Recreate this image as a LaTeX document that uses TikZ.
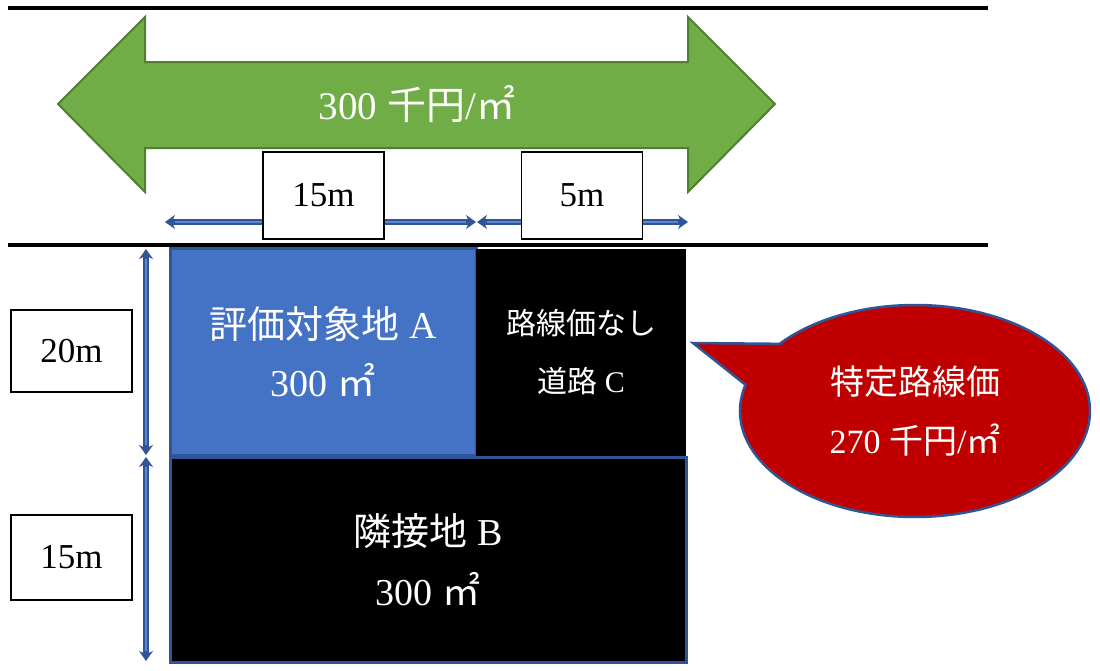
\documentclass[tikz,border=0pt]{standalone}
\usepackage{fontspec}
\setmainfont{Liberation Serif}
\newfontfamily\cjk{Noto Sans CJK JP}
\usetikzlibrary{arrows.meta,shapes.callouts}
\definecolor{arrowgreen}{HTML}{70AD47}
\definecolor{arrowgreenline}{HTML}{507E32}
\definecolor{lotblue}{HTML}{4472C4}
\definecolor{lotline}{HTML}{2F5597}
\definecolor{dimblue}{HTML}{2F5597}
\definecolor{dimlight}{HTML}{5B86D0}
\definecolor{calloutred}{HTML}{C00000}
\tikzset{
  roadline/.style={line width=4pt, black},
  dimline/.style={draw=dimblue, line width=6pt,
    arrows={Stealth[length=10pt,width=14pt]-Stealth[length=10pt,width=14pt]},
    postaction={draw=dimlight, line width=1.8pt, arrows=-, shorten <=10pt, shorten >=10pt}},
  labelbox/.style={draw=black, line width=1.5pt, fill=white, inner sep=0pt,
    minimum width=121pt, font=\fontsize{35}{40}\selectfont},
  lot/.style={inner sep=0pt, align=center, text=white},
}
\begin{document}
\begin{tikzpicture}[x=1pt,y=-1pt]
\useasboundingbox (0,0) rectangle (1100,670);
% road lines
\coordinate (r1a) at (8,8); \coordinate (r1b) at (988,8);
\coordinate (r2a) at (8,245); \coordinate (r2b) at (988,245);
\draw[roadline] (r1a) -- (r1b);
\draw[roadline] (r2a) -- (r2b);
% green double arrow
\draw[fill=arrowgreen, draw=arrowgreenline, line width=2pt, line join=miter]
  (58,104) -- (145,17) -- (145,62) -- (688,62) -- (688,17) -- (775,104)
  -- (688,192) -- (688,148) -- (145,148) -- (145,192) -- cycle;
\node[text=white, font=\fontsize{39}{44}\selectfont] (price) at (417,104) {300 {\cjk 千円}/{\cjk ㎡}};
% lots
\node[lot, fill=lotblue, draw=lotline, line width=3pt, minimum width=306pt, minimum height=207pt,
  font=\fontsize{38}{58}\selectfont] (A) at (323,351.5) {{\cjk 評価対象地}~A\\300~{\cjk ㎡}};
\node[lot, fill=black, minimum width=210pt, minimum height=207pt,
  font=\fontsize{30}{58}\selectfont] (C) at (581,352.5) {{\cjk 路線価なし}\\{\cjk 道路}~C};
\node[lot, fill=black, draw=lotline, line width=3pt, minimum width=516pt, minimum height=205pt,
  font=\fontsize{38}{60}\selectfont] (B) at (428,559.5) {{\cjk 隣接地}~B\\300~{\cjk ㎡}};
% dimension lines
\coordinate (h1) at (165,222); \coordinate (h2) at (476,222); \coordinate (h3) at (477,222); \coordinate (h4) at (688,222);
\coordinate (v1) at (146,249); \coordinate (v2) at (146,455); \coordinate (v3) at (146,457); \coordinate (v4) at (146,661);
\draw[dimline] (h1) -- (h2);
\draw[dimline] (h3) -- (h4);
\draw[dimline] (v1) -- (v2);
\draw[dimline] (v3) -- (v4);
% dimension labels
\node[labelbox, minimum height=87pt] (w15) at (323.5,195.5) {15m};
\node[labelbox, minimum height=87pt] (w5) at (582,195.5) {5m};
\node[labelbox, minimum height=82pt] (d20) at (71.5,351) {20m};
\node[labelbox, minimum height=85pt] (d15) at (71.5,557.5) {15m};
% callout
\node[ellipse callout, fill=calloutred, draw=lotline, line width=2.5pt,
  minimum width=350pt, minimum height=212pt, inner sep=0pt,
  callout absolute pointer={(693,343)}, callout pointer arc=25,
  text=white, align=center, font=\fontsize{34}{59}\selectfont] (tk) at (915,411)
  {{\cjk 特定路線価}\\270 {\cjk 千円}/{\cjk ㎡}};
\end{tikzpicture}
\end{document}
